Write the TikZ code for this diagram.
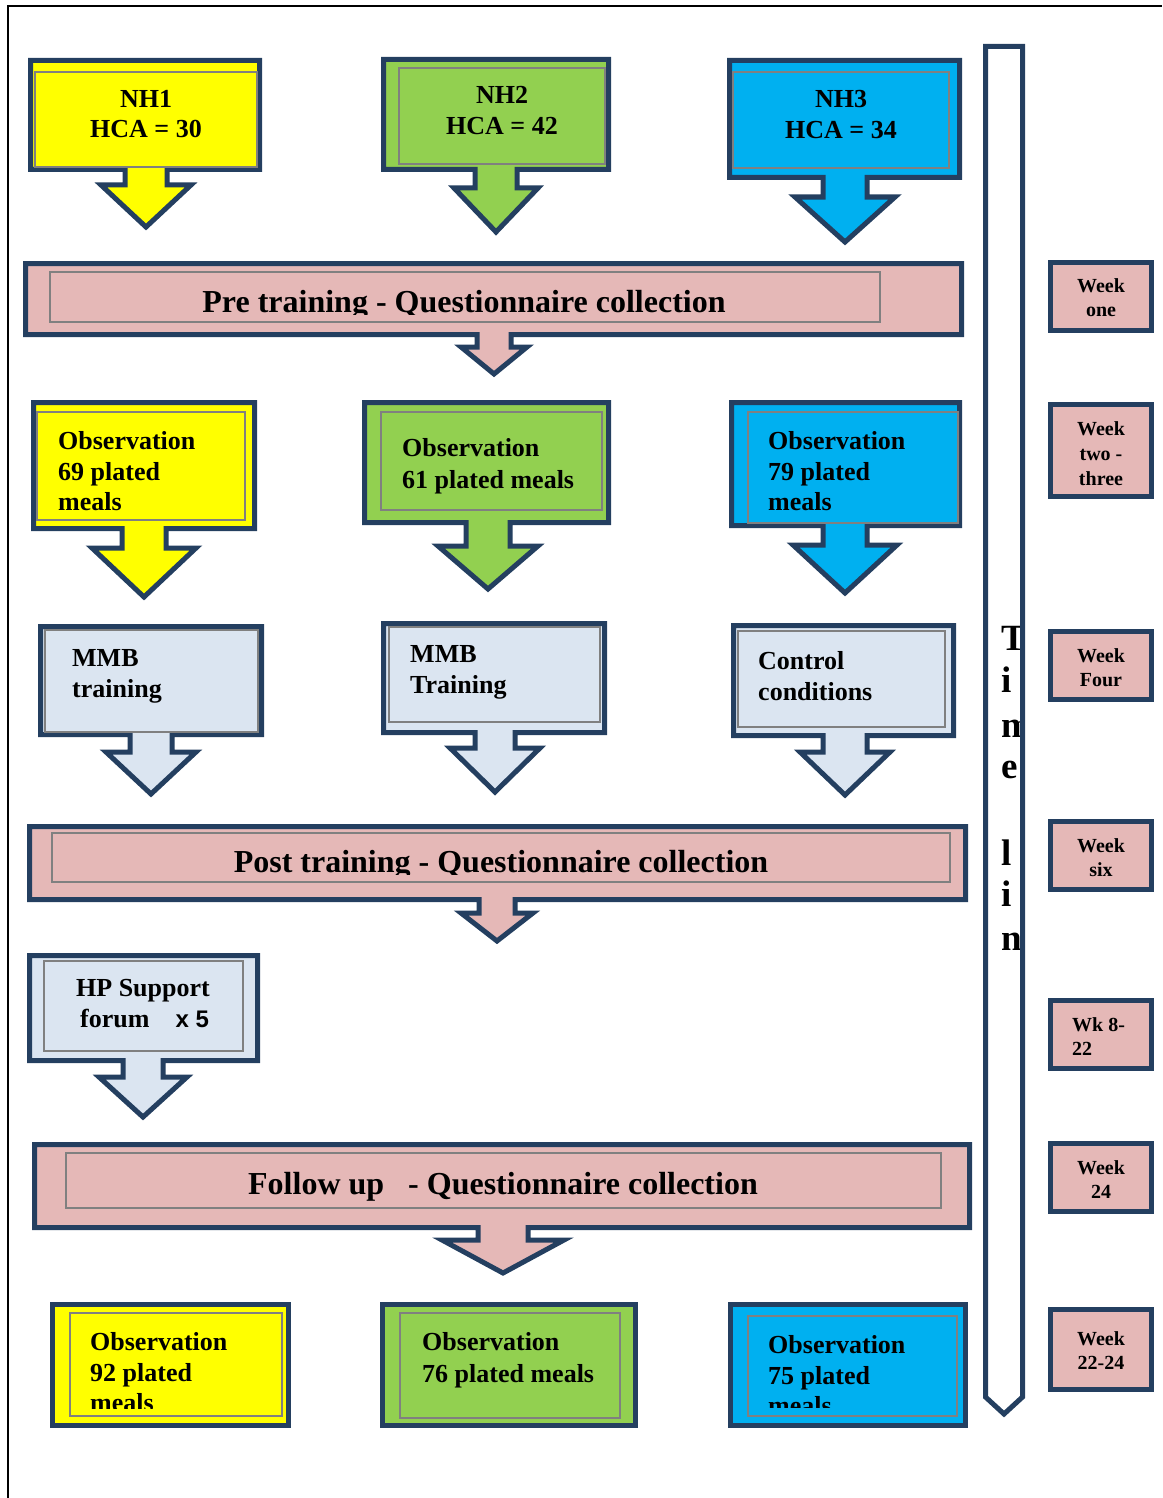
\documentclass[tikz,border=0pt]{standalone}
\usepackage{fontspec}
\setmainfont{Liberation Serif}
\newfontfamily\sansb{Liberation Sans}
\definecolor{navy}{HTML}{243F60}
\definecolor{cyel}{HTML}{FFFF00}
\definecolor{cgrn}{HTML}{92D050}
\definecolor{cblu}{HTML}{00B0F0}
\definecolor{cpnk}{HTML}{E5B8B7}
\definecolor{clgt}{HTML}{DBE5F1}
\definecolor{cgry}{HTML}{808080}
\newcommand\aSpec[5]{\def\acx{#1}\def\asw{#2}\def\awy{#3}\def\aww{#4}\def\aty{#5}}
\newcommand\cOut[5]{%
  \path[frame, fill=#1] (#2,#3) -- (#4,#3) -- (#4,#5) -- ({\acx+\asw},#5) -- ({\acx+\asw},\awy) -- ({\acx+\aww},\awy) -- (\acx,\aty) -- ({\acx-\aww},\awy) -- ({\acx-\asw},\awy) -- ({\acx-\asw},#5) -- (#2,#5) -- cycle;}
\newcommand\tL[4]{\node[txt, anchor=base west] (#1) at (#2,#3) {#4};}
\newcommand\tC[4]{\node[txt, anchor=base] (#1) at (#2,#3) {#4};}
\newcommand\wL[4]{\node[wtxt, anchor=base] (#1) at (#2,#3) {#4};}
\begin{document}
\begin{tikzpicture}[x=1pt,y=-1pt,
  frame/.style={draw=navy, line width=5pt, line join=miter},
  innerbox/.style={draw=cgry, line width=2pt},
  txt/.style={inner sep=0pt, font=\fontsize{26}{30}\selectfont\bfseries},
  bartxt/.style={inner sep=0pt, anchor=base, font=\fontsize{32}{36}\selectfont\bfseries},
  wtxt/.style={inner sep=0pt, font=\fontsize{20}{24}\selectfont\bfseries},
  tltxt/.style={inner sep=0pt, anchor=base west, font=\fontsize{37}{40}\selectfont\bfseries},
  weekbox/.style={draw=navy, line width=5pt, fill=cpnk}]
\useasboundingbox (0,0) rectangle (1162,1498);
% page border
\draw[line width=2pt] (8,1498) -- (8,6) -- (1162,6);

% ---------- Row 1: NH boxes
\aSpec{146}{21}{185}{45}{227}
\cOut{cyel}{30.5}{60.5}{259.5}{169.5}
\draw[innerbox] (35,72) rectangle (257,167);
\tC{nh1a}{146}{108}{NH1}
\tC{nh1b}{146}{138}{HCA = 30}

\aSpec{496}{21}{188}{42}{232}
\cOut{cgrn}{383.5}{59.5}{608.5}{169.5}
\draw[innerbox] (399,68) rectangle (605,164);
\tC{nh2a}{502}{104}{NH2}
\tC{nh2b}{502}{135}{HCA = 42}

\aSpec{845}{22}{197}{50}{242}
\cOut{cblu}{729.5}{60.5}{959.5}{177.5}
\draw[innerbox] (733,72) rectangle (949,168);
\tC{nh3a}{841}{108}{NH3}
\tC{nh3b}{841}{139}{HCA = 34}

% ---------- Pre training bar
\aSpec{494}{17}{347}{33}{374}
\cOut{cpnk}{25.5}{263.5}{961.5}{334.5}
\draw[innerbox] (50,272) rectangle (880,322);
\begin{scope}
\clip (50,272) rectangle (880,314);
\node[bartxt] (pre) at (464,312) {Pre training - Questionnaire collection};
\end{scope}

% ---------- Row 2: observations
\aSpec{144}{22}{548}{52}{597}
\cOut{cyel}{33.5}{402.5}{254.5}{528.5}
\draw[innerbox] (37,412) rectangle (245,520);
\tL{o1a}{58}{449}{Observation}
\tL{o1b}{58}{480}{69 plated}
\tL{o1c}{58}{510}{meals}

\aSpec{488}{22}{546}{50}{589}
\cOut{cgrn}{364.5}{402.5}{608.5}{522.5}
\draw[innerbox] (381,412) rectangle (602,510);
\tL{o2a}{402}{456}{Observation}
\tL{o2b}{402}{488}{61 plated meals}

\aSpec{845}{22}{545}{52}{593}
\cOut{cblu}{731.5}{402.5}{959.5}{525.5}
\draw[innerbox] (748,412) rectangle (958,523);
\tL{o3a}{768}{449}{Observation}
\tL{o3b}{768}{480}{79 plated}
\tL{o3c}{768}{510}{meals}

% ---------- Row 3: training / control
\aSpec{151}{21}{752}{45}{794}
\cOut{clgt}{40.5}{626.5}{261.5}{734.5}
\draw[innerbox] (45,630) rectangle (258,732);
\tL{m1a}{72}{666}{MMB}
\tL{m1b}{72}{697}{training}

\aSpec{495}{20}{748}{45}{792}
\cOut{clgt}{383.5}{623.5}{604.5}{732.5}
\draw[innerbox] (389,627) rectangle (600,722);
\tL{m2a}{410}{662}{MMB}
\tL{m2b}{410}{693}{Training}

\aSpec{845}{22}{752}{45}{795}
\cOut{clgt}{733.5}{625.5}{953.5}{735.5}
\draw[innerbox] (738,631) rectangle (945,727);
\tL{c1a}{758}{669}{Control}
\tL{c1b}{758}{700}{conditions}

% ---------- Post training bar
\aSpec{497}{18}{913}{36}{941}
\cOut{cpnk}{29.5}{826.5}{965.5}{899.5}
\draw[innerbox] (52,833) rectangle (950,882);
\begin{scope}
\clip (52,833) rectangle (950,874);
\node[bartxt] (post) at (501,872) {Post training - Questionnaire collection};
\end{scope}

% ---------- HP support
\aSpec{143}{20}{1077}{44}{1117}
\cOut{clgt}{29.5}{955.5}{257.5}{1060.5}
\draw[innerbox] (44,961) rectangle (243,1051);
\tC{hpa}{143}{996}{HP Support}
\tL{hpb}{80}{1027}{forum\hspace{26pt}{\sansb\fontsize{24}{28}\selectfont x 5}}

% ---------- Follow up bar
\aSpec{503}{25}{1240}{61}{1273}
\cOut{cpnk}{34.5}{1144.5}{969.5}{1227.5}
\draw[innerbox] (66,1153) rectangle (941,1208);
\node[bartxt] (fol) at (503,1194) {Follow up\hspace{24pt}- Questionnaire collection};

% ---------- Row 5: final observations
\draw[frame, fill=cyel] (52.5,1304.5) rectangle (288.5,1425.5);
\draw[innerbox] (70,1313) rectangle (282,1416);
\begin{scope}
\clip (70,1313) rectangle (282,1408);
\tL{f1a}{90}{1350}{Observation}
\tL{f1b}{90}{1381}{92 plated}
\tL{f1c}{90}{1411}{meals}
\end{scope}

\draw[frame, fill=cgrn] (382.5,1304.5) rectangle (635.5,1425.5);
\draw[innerbox] (400,1313) rectangle (620,1418);
\tL{f2a}{422}{1350}{Observation}
\tL{f2b}{422}{1382}{76 plated meals}

\draw[frame, fill=cblu] (730.5,1304.5) rectangle (965.5,1425.5);
\draw[innerbox] (748,1316) rectangle (957,1416);
\begin{scope}
\clip (748,1316) rectangle (957,1407);
\tL{f3a}{768}{1353}{Observation}
\tL{f3b}{768}{1384}{75 plated}
\tL{f3c}{768}{1414}{meals}
\end{scope}

% ---------- Timeline arrow
\draw[frame, fill=white] (985.5,46.5) -- (1022.5,46.5) -- (1022.5,1397) -- (1004,1414) -- (985.5,1397) -- cycle;
\begin{scope}
\clip (985,40) rectangle (1020.5,1400);
\node[tltxt] (tl1) at (1001,650) {T};
\node[tltxt] (tl2) at (1001,692) {i};
\node[tltxt] (tl3) at (1001,737) {m};
\node[tltxt] (tl4) at (1001,778) {e};
\node[tltxt] (tl5) at (1001,865) {l};
\node[tltxt] (tl6) at (1001,906) {i};
\node[tltxt] (tl7) at (1001,950) {n};
\end{scope}
\draw[navy, line width=5pt] (1022.5,46.5) -- (1022.5,1397);

% ---------- Week boxes
\draw[weekbox] (1050.5,262.5) rectangle (1151.5,330.5);
\wL{w1a}{1101}{292}{Week}
\wL{w1b}{1101}{316}{one}

\draw[weekbox] (1050.5,404.5) rectangle (1151.5,496.5);
\wL{w2a}{1101}{435}{Week}
\wL{w2b}{1101}{460}{two -}
\wL{w2c}{1101}{485}{three}

\draw[weekbox] (1050.5,631.5) rectangle (1151.5,699.5);
\wL{w3a}{1101}{662}{Week}
\wL{w3b}{1101}{686}{Four}

\draw[weekbox] (1050.5,821.5) rectangle (1151.5,889.5);
\wL{w4a}{1101}{852}{Week}
\wL{w4b}{1101}{876}{six}

\draw[weekbox] (1050.5,1000.5) rectangle (1151.5,1068.5);
\node[wtxt, anchor=base west] (w5a) at (1072,1031) {Wk 8-};
\node[wtxt, anchor=base west] (w5b) at (1072,1055) {22};

\draw[weekbox] (1050.5,1143.5) rectangle (1151.5,1211.5);
\wL{w6a}{1101}{1174}{Week}
\wL{w6b}{1101}{1198}{24}

\draw[weekbox] (1050.5,1309.5) rectangle (1151.5,1389.5);
\wL{w7a}{1101}{1345}{Week}
\wL{w7b}{1101}{1369}{22-24}
\end{tikzpicture}
\end{document}
